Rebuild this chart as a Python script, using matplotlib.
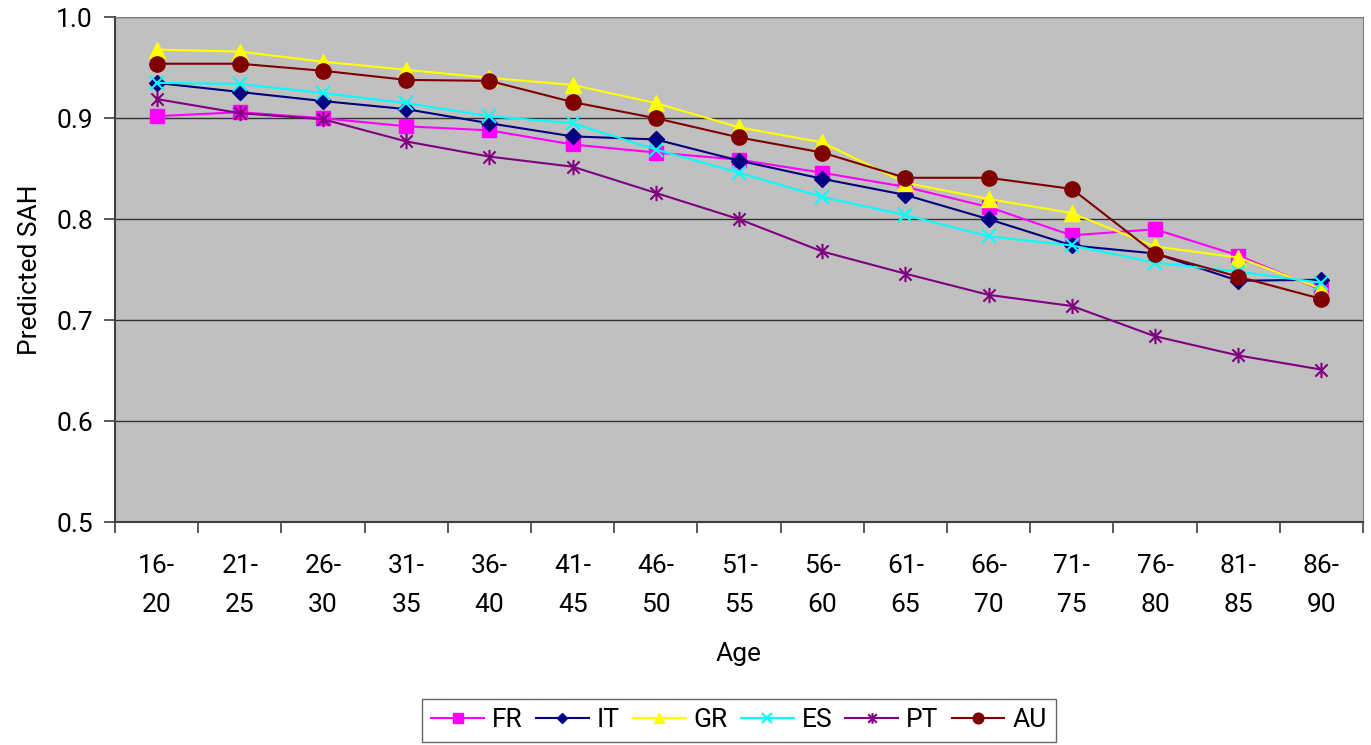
import matplotlib.pyplot as plt
from matplotlib.path import Path

ages = ['16-\n20', '21-\n25', '26-\n30', '31-\n35', '36-\n40', '41-\n45', '46-\n50', '51-\n55',
        '56-\n60', '61-\n65', '66-\n70', '71-\n75', '76-\n80', '81-\n85', '86-\n90']

fr = [0.902, 0.906, 0.900, 0.892, 0.888, 0.874, 0.866, 0.859, 0.846, 0.832, 0.812, 0.784, 0.790, 0.764, 0.730]
it = [0.935, 0.926, 0.917, 0.909, 0.895, 0.882, 0.879, 0.858, 0.840, 0.824, 0.800, 0.774, 0.766, 0.739, 0.740]
gr = [0.968, 0.966, 0.956, 0.948, 0.940, 0.933, 0.915, 0.891, 0.876, 0.836, 0.820, 0.806, 0.773, 0.762, 0.731]
es = [0.935, 0.934, 0.925, 0.915, 0.902, 0.895, 0.869, 0.846, 0.822, 0.804, 0.783, 0.774, 0.757, 0.748, 0.737]
pt = [0.919, 0.905, 0.899, 0.877, 0.862, 0.852, 0.826, 0.800, 0.768, 0.746, 0.725, 0.714, 0.684, 0.665, 0.651]
au = [0.954, 0.954, 0.947, 0.938, 0.937, 0.916, 0.900, 0.881, 0.866, 0.841, 0.841, 0.830, 0.766, 0.743, 0.721]

# Excel style star: vertical bar plus an X
star = Path([(0, -1), (0, 1), (-0.8, -0.8), (0.8, 0.8), (-0.8, 0.8), (0.8, -0.8)],
            [Path.MOVETO, Path.LINETO, Path.MOVETO, Path.LINETO, Path.MOVETO, Path.LINETO])

plt.rcParams['font.family'] = 'Roboto'
plt.rcParams['font.size'] = 19

fig = plt.figure(figsize=(13.71, 7.45), dpi=100)
ax = fig.add_axes([0.0839, 0.2993, 0.9103, 0.6775])
ax.set_facecolor('#C0C0C0')

x = list(range(len(ages)))
ax.plot(x, fr, color='#FF00FF', marker='s', markersize=10, lw=1.5, label='FR')
ax.plot(x, it, color='#000080', marker='D', markersize=8, lw=1.5, label='IT')
ax.plot(x, gr, color='#FFFF00', marker='^', markersize=11, lw=1.5, label='GR')
ax.plot(x, es, color='#00FFFF', marker='x', markersize=10, mew=1.5, lw=1.5, label='ES')
ax.plot(x, pt, color='#800080', marker=star, markersize=11, mew=1.5, lw=1.5, label='PT')
ax.plot(x, au, color='#800000', marker='o', markersize=11, lw=1.5, label='AU')

ax.set_xlim(-0.5, len(ages) - 0.5)
ax.set_ylim(0.5, 1.0)
ax.set_yticks([0.5, 0.6, 0.7, 0.8, 0.9, 1.0])
ax.set_yticklabels(['0.5', '0.6', '0.7', '0.8', '0.9', '1.0'])
ax.set_xticks(x)
ax.set_xticklabels(ages, linespacing=1.8)
ax.set_xticks([i - 0.5 for i in range(len(ages) + 1)], minor=True)
ax.tick_params(axis='x', which='major', length=0, pad=23)
ax.tick_params(axis='x', which='minor', length=8, width=1.2, color='#404040')
ax.tick_params(axis='y', length=8, width=1.2, color='#404040', pad=8)
ax.grid(axis='y', color='#333333', lw=1)
ax.set_axisbelow(True)
for s in ax.spines.values():
    s.set_color('#808080')
ax.spines['left'].set_color('#404040')
ax.spines['bottom'].set_color('#404040')
ax.spines['left'].set_linewidth(1.5)
ax.spines['bottom'].set_linewidth(1.5)

ax.set_xlabel('Age', labelpad=18)
ax.set_ylabel('Predicted SAH', labelpad=10)

leg = ax.legend(loc='upper center', bbox_to_anchor=(0.5, -0.325), ncol=6, frameon=True,
                fancybox=False, edgecolor='#404040', fontsize=19, markerscale=0.7,
                handlelength=2.0, columnspacing=0.5, handletextpad=0.3, borderpad=0.35)
leg.get_frame().set_linewidth(1)

fig.savefig('out.png', dpi=100)
